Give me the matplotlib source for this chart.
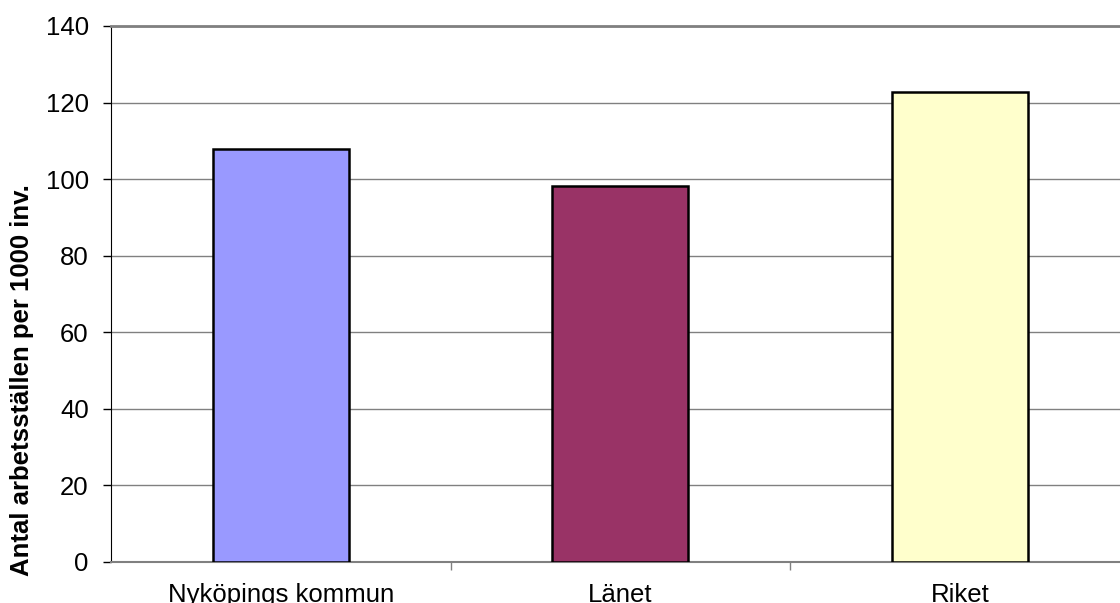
import numpy as np
import matplotlib.pyplot as plt

# ── data ──────────────────────────────────────────────
categories = ["Nyköpings kommun", "Länet", "Riket"]
values = [107.8, 98.2, 122.7]
bar_colors = ["#9999FF", "#993366", "#FFFFCC"]
y_ticks = [0, 20, 40, 60, 80, 100, 120, 140]

plt.rcParams["font.family"] = ["Liberation Sans", "DejaVu Sans"]

fig = plt.figure(figsize=(11.2, 6.03), dpi=100)
ax = fig.add_axes([0.0991, 0.068, 0.9094, 0.889])

x = np.arange(len(categories))
ax.bar(x, values, width=0.4, color=bar_colors, edgecolor="black",
       linewidth=1.8, zorder=3)

ax.set_xlim(-0.5, len(categories) - 0.5)
ax.set_ylim(0, 140)
ax.set_yticks(y_ticks)
ax.yaxis.grid(True, color="#808080", linewidth=1.0, zorder=0)

ax.set_xticks(x)
ax.set_xticklabels(categories)
ax.set_xticks([0.5, 1.5], minor=True)
ax.tick_params(axis="x", which="major", length=0, pad=15, labelsize=18.5)
ax.tick_params(axis="x", which="minor", length=6, width=1, color="#808080")
ax.tick_params(axis="y", length=6, width=1, pad=10, labelsize=18.5)

ax.spines["right"].set_visible(False)
ax.spines["top"].set_color("#808080")
ax.spines["top"].set_linewidth(2)
ax.spines["bottom"].set_color("#808080")
ax.spines["bottom"].set_linewidth(1.5)
ax.spines["left"].set_color("black")

fig.text(0.0196, 0.37, "Antal arbetsställen per 1000 inv.", fontsize=18.5,
         fontweight="bold", rotation=90, ha="center", va="center")

plt.savefig("out.png", dpi=100)
